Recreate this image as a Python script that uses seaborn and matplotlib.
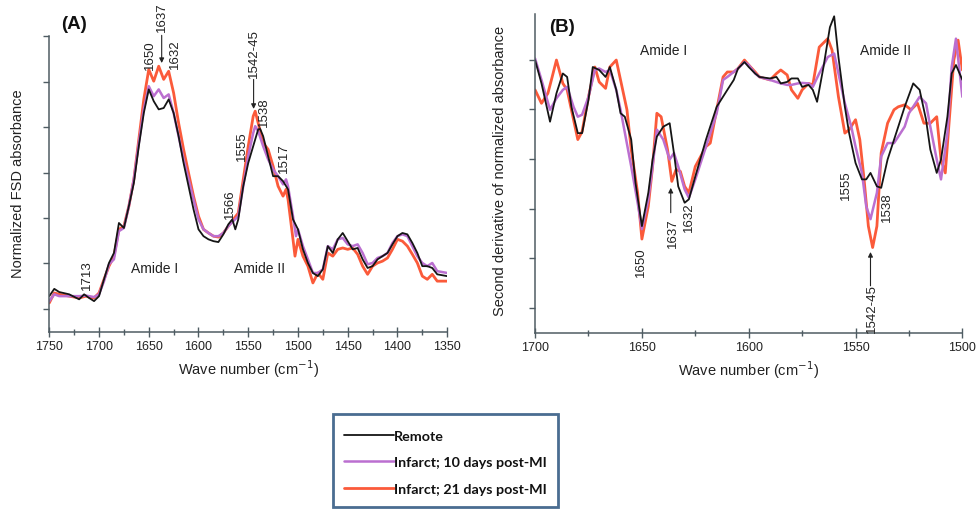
import numpy as np
import pandas as pd
import matplotlib
matplotlib.use("Agg")
import matplotlib.pyplot as plt
from matplotlib.ticker import MultipleLocator, NullFormatter
from matplotlib.lines import Line2D
from matplotlib.patches import Rectangle
import seaborn as sns

# ---------------- data: panel A (normalized FSD absorbance) ----------------
wn_a_red = [1750, 1745, 1740, 1730, 1720, 1713, 1710, 1705, 1700, 1695, 1690, 1685, 1680, 1675,
            1670, 1665, 1660, 1655, 1650, 1645, 1640, 1635, 1630, 1625, 1620, 1615, 1610, 1605,
            1600, 1595, 1590, 1585, 1580, 1575, 1570, 1565, 1560, 1555, 1550, 1545, 1543, 1540,
            1535, 1530, 1525, 1520, 1515, 1512, 1510, 1505, 1503, 1500, 1495, 1490, 1485, 1480,
            1475, 1470, 1465, 1460, 1455, 1450, 1445, 1440, 1435, 1430, 1425, 1420, 1415, 1410,
            1405, 1400, 1395, 1390, 1385, 1380, 1375, 1370, 1365, 1360, 1350]
abs_a_red = [0.13, 0.35, 0.32, 0.28, 0.24, 0.28, 0.26, 0.24, 0.35, 0.65, 0.94, 1.16, 1.75, 1.82,
             2.26, 2.85, 3.73, 4.61, 5.27, 5.01, 5.34, 5.05, 5.23, 4.75, 4.09, 3.51, 2.99, 2.48,
             2.04, 1.75, 1.67, 1.60, 1.58, 1.67, 1.82, 1.97, 2.11, 2.85, 3.58, 4.24, 4.35, 4.09,
             3.65, 3.51, 3.14, 2.70, 2.48, 2.63, 2.41, 1.53, 1.16, 1.53, 1.16, 0.94, 0.57, 0.79,
             0.65, 1.23, 1.16, 1.31, 1.34, 1.31, 1.34, 1.20, 0.94, 0.76, 0.94, 1.01, 1.05, 1.12,
             1.31, 1.53, 1.49, 1.38, 1.20, 1.01, 0.72, 0.65, 0.76, 0.61, 0.61]

wn_a_purple = [1750, 1745, 1740, 1730, 1720, 1713, 1710, 1705, 1700, 1695, 1690, 1685, 1680, 1675,
               1670, 1665, 1660, 1655, 1650, 1645, 1640, 1635, 1630, 1625, 1620, 1615, 1610, 1605,
               1600, 1595, 1590, 1585, 1580, 1575, 1570, 1565, 1560, 1555, 1550, 1545, 1543, 1540,
               1535, 1530, 1525, 1520, 1515, 1512, 1510, 1505, 1502, 1500, 1495, 1490, 1485, 1480,
               1475, 1470, 1465, 1460, 1455, 1450, 1445, 1440, 1435, 1430, 1425, 1420, 1415, 1410,
               1405, 1400, 1395, 1390, 1385, 1380, 1375, 1370, 1365, 1360, 1350]
abs_a_purple = [0.17, 0.32, 0.28, 0.28, 0.28, 0.29, 0.28, 0.26, 0.32, 0.61, 0.98, 1.09, 1.71, 1.78,
                2.26, 2.85, 3.65, 4.39, 4.90, 4.68, 4.83, 4.64, 4.72, 4.31, 3.80, 3.29, 2.85, 2.41,
                1.97, 1.75, 1.67, 1.60, 1.60, 1.67, 1.82, 1.93, 2.04, 2.70, 3.36, 3.87, 4.02, 3.91,
                3.58, 3.29, 3.07, 2.92, 2.74, 2.85, 2.70, 2.04, 1.60, 1.75, 1.38, 1.09, 0.79, 0.79,
                0.87, 1.38, 1.31, 1.53, 1.56, 1.42, 1.38, 1.42, 1.23, 0.98, 1.01, 1.12, 1.16, 1.23,
                1.45, 1.60, 1.64, 1.60, 1.38, 1.16, 1.01, 0.94, 1.01, 0.83, 0.79]

wn_a_black = [1750, 1745, 1740, 1730, 1720, 1715, 1710, 1705, 1700, 1695, 1690, 1685, 1680, 1675,
              1670, 1665, 1660, 1655, 1650, 1645, 1640, 1635, 1630, 1625, 1620, 1615, 1610, 1605,
              1600, 1595, 1590, 1585, 1580, 1575, 1570, 1566, 1563, 1560, 1555, 1550, 1545, 1540,
              1538, 1535, 1530, 1525, 1520, 1515, 1510, 1505, 1500, 1495, 1490, 1485, 1480, 1475,
              1470, 1465, 1460, 1455, 1450, 1445, 1440, 1435, 1430, 1425, 1420, 1415, 1410, 1405,
              1400, 1395, 1390, 1385, 1380, 1375, 1370, 1365, 1360, 1350]
abs_a_black = [0.28, 0.44, 0.37, 0.32, 0.21, 0.32, 0.24, 0.17, 0.28, 0.65, 1.01, 1.23, 1.89, 1.78,
               2.26, 2.77, 3.58, 4.31, 4.83, 4.57, 4.39, 4.42, 4.61, 4.31, 3.80, 3.21, 2.70, 2.19,
               1.75, 1.60, 1.53, 1.49, 1.47, 1.64, 1.86, 1.97, 1.75, 1.97, 2.70, 3.21, 3.58, 3.95,
               3.96, 3.80, 3.36, 2.92, 2.92, 2.81, 2.63, 1.97, 1.75, 1.31, 1.01, 0.79, 0.72, 0.87,
               1.38, 1.23, 1.53, 1.67, 1.49, 1.31, 1.34, 1.09, 0.90, 0.94, 1.09, 1.16, 1.23, 1.42,
               1.60, 1.67, 1.64, 1.45, 1.23, 0.94, 0.94, 0.90, 0.76, 0.72]

# ---------------- data: panel B (second derivative) ----------------
wn_b_black = [1700, 1697, 1693, 1690, 1687, 1685, 1683, 1680, 1678, 1675, 1673, 1670, 1667, 1665,
              1662, 1660, 1658, 1655, 1653, 1650, 1647, 1645, 1643, 1640, 1637, 1635, 1633, 1630,
              1628, 1625, 1620, 1615, 1610, 1607, 1605, 1602, 1600, 1597, 1595, 1590, 1587, 1585,
              1582, 1580, 1577, 1575, 1572, 1570, 1568, 1565, 1562, 1560, 1558, 1555, 1553, 1550,
              1547, 1545, 1543, 1540, 1538, 1535, 1530, 1527, 1523, 1520, 1517, 1515, 1512, 1510,
              1507, 1505, 1503, 1500]
d2_b_black = [2.99, 2.52, 1.75, 2.32, 2.72, 2.65, 2.05, 1.52, 1.52, 2.19, 2.85, 2.79, 2.65, 2.85,
              2.39, 1.92, 1.85, 1.39, 0.52, -0.35, 0.32, 0.99, 1.45, 1.65, 1.72, 1.12, 0.45, 0.12,
              0.19, 0.65, 1.39, 2.05, 2.39, 2.59, 2.82, 2.95, 2.85, 2.72, 2.65, 2.62, 2.65, 2.52,
              2.55, 2.62, 2.62, 2.45, 2.49, 2.39, 2.15, 2.85, 3.65, 3.87, 3.05, 2.05, 1.52, 0.92,
              0.59, 0.59, 0.72, 0.45, 0.42, 0.99, 1.65, 2.05, 2.52, 2.39, 1.79, 1.19, 0.72, 0.99,
              1.85, 2.72, 2.89, 2.59]

wn_b_purple = [1700, 1697, 1693, 1690, 1687, 1685, 1682, 1680, 1678, 1675, 1672, 1670, 1667, 1665,
               1662, 1660, 1655, 1652, 1650, 1647, 1645, 1643, 1640, 1637, 1635, 1633, 1630, 1628,
               1625, 1620, 1617, 1615, 1612, 1610, 1605, 1602, 1600, 1597, 1595, 1590, 1585, 1582,
               1580, 1577, 1575, 1572, 1570, 1567, 1563, 1560, 1558, 1555, 1552, 1550, 1547, 1545,
               1543, 1540, 1538, 1535, 1532, 1530, 1527, 1525, 1520, 1517, 1515, 1512, 1510, 1507,
               1505, 1503, 1500]
d2_b_purple = [3.02, 2.59, 1.99, 2.22, 2.39, 2.45, 2.05, 1.85, 1.89, 2.25, 2.79, 2.82, 2.75, 2.79,
               2.39, 1.99, 0.85, 0.12, -0.41, 0.19, 0.85, 1.59, 1.39, 0.99, 1.12, 0.85, 0.39, 0.22,
               0.59, 1.25, 1.65, 1.92, 2.59, 2.65, 2.82, 2.95, 2.89, 2.72, 2.65, 2.59, 2.52, 2.49,
               2.49, 2.52, 2.53, 2.52, 2.45, 2.72, 3.05, 3.12, 2.72, 2.12, 1.65, 1.25, 0.72, 0.05,
               -0.21, 0.32, 1.05, 1.32, 1.32, 1.45, 1.65, 1.92, 2.25, 2.12, 1.65, 0.99, 0.59, 1.52,
               2.85, 3.42, 2.25]

wn_b_red = [1700, 1697, 1694, 1692, 1690, 1687, 1685, 1682, 1680, 1678, 1675, 1672, 1670, 1667,
            1665, 1662, 1660, 1657, 1655, 1652, 1650, 1647, 1645, 1643, 1641, 1638, 1636, 1634,
            1632, 1630, 1628, 1625, 1620, 1618, 1615, 1612, 1610, 1607, 1605, 1602, 1600, 1597,
            1595, 1590, 1587, 1585, 1582, 1580, 1577, 1575, 1572, 1570, 1567, 1563, 1561, 1558,
            1555, 1553, 1550, 1548, 1546, 1544, 1542, 1540, 1538, 1535, 1532, 1530, 1527, 1524,
            1521, 1518, 1515, 1512, 1510, 1508, 1506, 1504, 1502, 1500]
d2_b_red = [2.39, 2.12, 2.32, 2.65, 2.99, 2.52, 2.39, 1.79, 1.39, 1.55, 2.25, 2.85, 2.55, 2.42,
            2.85, 2.99, 2.59, 1.99, 1.19, 0.32, -0.61, 0.05, 0.85, 1.92, 1.85, 1.19, 0.55, 0.79,
            0.75, 0.45, 0.32, 0.85, 1.25, 1.32, 1.99, 2.65, 2.75, 2.75, 2.82, 2.99, 2.89, 2.75,
            2.65, 2.59, 2.72, 2.79, 2.69, 2.39, 2.22, 2.39, 2.52, 2.49, 3.25, 3.42, 3.19, 2.25,
            1.52, 1.59, 1.79, 1.39, 0.59, -0.35, -0.78, -0.35, 1.12, 1.72, 1.99, 2.05, 2.09, 1.99,
            2.12, 1.72, 1.72, 1.85, 0.99, 0.72, 1.85, 2.99, 3.39, 2.79]

series_names = ["Remote", "Infarct; 10 days post-MI", "Infarct; 21 days post-MI"]
xticks_a = [1750, 1700, 1650, 1600, 1550, 1500, 1450, 1400, 1350]
xticks_b = [1700, 1650, 1600, 1550, 1500]

# peak annotations: (label, wavenumber, value) positions for text
ann_a = [("1650", 1649.3, 5.60), ("1632", 1623.5, 5.62), ("1538", 1534.5, 4.35),
         ("1555", 1556.4, 3.60), ("1517", 1514.4, 3.35), ("1566", 1568.0, 2.33),
         ("1713", 1712.4, 0.76)]
ann_b = [("1650", 1650.3, -1.05), ("1632", 1628.0, -0.15), ("1555", 1554.6, 0.49),
         ("1538", 1535.4, 0.05)]

# ---------------- styling ----------------
sns.set_theme(style="white")
plt.rcParams["font.family"] = ["Liberation Sans", "DejaVu Sans"]

C_BLACK = "#151515"
C_PURPLE = "#bb6fd0"
C_RED = "#fb5a3a"
SPINE = "#4f5c63"
TXT = "#222222"

df_a = pd.concat([
    pd.DataFrame({"wn": wn_a_red, "y": abs_a_red, "s": series_names[2]}),
    pd.DataFrame({"wn": wn_a_purple, "y": abs_a_purple, "s": series_names[1]}),
    pd.DataFrame({"wn": wn_a_black, "y": abs_a_black, "s": series_names[0]}),
])
df_b = pd.concat([
    pd.DataFrame({"wn": wn_b_red, "y": d2_b_red, "s": series_names[2]}),
    pd.DataFrame({"wn": wn_b_purple, "y": d2_b_purple, "s": series_names[1]}),
    pd.DataFrame({"wn": wn_b_black, "y": d2_b_black, "s": series_names[0]}),
])
palette = {series_names[0]: C_BLACK, series_names[1]: C_PURPLE, series_names[2]: C_RED}
widths = {series_names[0]: 1.3, series_names[1]: 1.8, series_names[2]: 2.0}

fig = plt.figure(figsize=(9.8, 5.1), dpi=100)
axA = fig.add_axes([0.0503, 0.347, 0.406, 0.580])
axB = fig.add_axes([0.546, 0.345, 0.436, 0.626])

for ax, df in ((axA, df_a), (axB, df_b)):
    for name in [series_names[2], series_names[1], series_names[0]]:
        sub = df[df["s"] == name]
        sns.lineplot(data=sub, x="wn", y="y", ax=ax, color=palette[name],
                     linewidth=widths[name], estimator=None, sort=True, legend=False)
    for sp in ("top", "right"):
        ax.spines[sp].set_visible(False)
    for sp in ("left", "bottom"):
        ax.spines[sp].set_color(SPINE)
        ax.spines[sp].set_linewidth(1.1)
    ax.set_ylabel("")
    ax.set_xlabel("Wave number (cm$^{-1}$)", fontsize=10.5, color=TXT, labelpad=4)
    ax.yaxis.set_major_formatter(NullFormatter())
    ax.xaxis.set_minor_locator(MultipleLocator(25))
    ax.tick_params(axis="x", which="major", direction="inout", length=7, width=1,
                   color=SPINE, labelsize=9, labelcolor=TXT, pad=2, bottom=True)
    ax.tick_params(axis="x", which="minor", direction="inout", length=5, width=1,
                   color=SPINE, bottom=True)
    ax.tick_params(axis="y", which="major", direction="out", length=4, width=1,
                   color=SPINE, left=True)

axA.set_xlim(1750, 1350)
axA.set_ylim(-0.51, 6.0)
axA.set_xticks(xticks_a)
axA.set_yticks(range(0, 7))
axB.set_xlim(1700, 1500)
axB.set_ylim(-2.5, 3.92)
axB.set_xticks(xticks_b)
axB.set_yticks(range(-2, 4))

fig.text(0.018, 0.64, "Normalized FSD absorbance", rotation=90, ha="center", va="center",
         fontsize=10.5, color=TXT)
fig.text(0.510, 0.665, "Second derivative of normalized absorbance", rotation=90,
         ha="center", va="center", fontsize=10.5, color=TXT)

fig.text(0.0755, 0.951, "(A)", fontsize=13.5, fontweight="bold", ha="center", va="center",
         color="#111111")
fig.text(0.5735, 0.947, "(B)", fontsize=13.5, fontweight="bold", ha="center", va="center",
         color="#111111")

ann_kw = dict(rotation=90, ha="center", va="center", fontsize=9.5, color=TXT,
              annotation_clip=False)
for lab, x, y in ann_a:
    axA.annotate(lab, (x, y), **ann_kw)
for lab, x, y in ann_b:
    axB.annotate(lab, (x, y), **ann_kw)

arrow = dict(arrowstyle="-|>", color="#222222", lw=0.8, mutation_scale=7,
             shrinkA=0, shrinkB=0)
# panel A arrows (pointing down to peaks)
axA.annotate("", xy=(1637.0, 5.41), xytext=(1637.0, 6.02), arrowprops=arrow,
             annotation_clip=False)
axA.annotate("1637", (1637.0, 6.44), **ann_kw)
axA.annotate("", xy=(1544.6, 4.40), xytext=(1544.6, 5.05), arrowprops=arrow,
             annotation_clip=False)
axA.annotate("1542-45", (1544.6, 5.63), **ann_kw)
# panel B arrows (pointing up to minima)
axB.annotate("", xy=(1636.5, 0.42), xytext=(1636.5, -0.08), arrowprops=arrow,
             annotation_clip=False)
axB.annotate("1637", (1635.6, -0.48), **ann_kw)
axB.annotate("", xy=(1543.0, -0.87), xytext=(1543.0, -1.55), arrowprops=arrow,
             annotation_clip=False)
axB.annotate("1542-45", (1542.4, -1.98), **ann_kw)

axA.text(1644.6, 0.90, "Amide I", ha="center", va="center", fontsize=10, color=TXT)
axA.text(1538.6, 0.90, "Amide II", ha="center", va="center", fontsize=10, color=TXT)
axB.text(1640.0, 3.19, "Amide I", ha="center", va="center", fontsize=10, color=TXT)
axB.text(1536.0, 3.19, "Amide II", ha="center", va="center", fontsize=10, color=TXT)

# legend box
box = Rectangle((333 / 980, (510 - 508) / 510), 225 / 980, 93 / 510,
                transform=fig.transFigure, fill=False, edgecolor="#4a6d91", linewidth=2.0)
fig.add_artist(box)
handles = [Line2D([], [], color=palette[n], linewidth=widths[n]) for n in series_names]
leg = fig.legend(handles, series_names, loc="upper left",
                 bbox_to_anchor=(331 / 980, (510 - 418) / 510), frameon=False,
                 handlelength=3.5, handletextpad=0.0, labelspacing=1.0,
                 prop={"family": ["Lato", "DejaVu Sans"], "weight": "bold", "size": 10.3})
for t in leg.get_texts():
    t.set_color("#111111")

fig.savefig("out.png", dpi=100)
